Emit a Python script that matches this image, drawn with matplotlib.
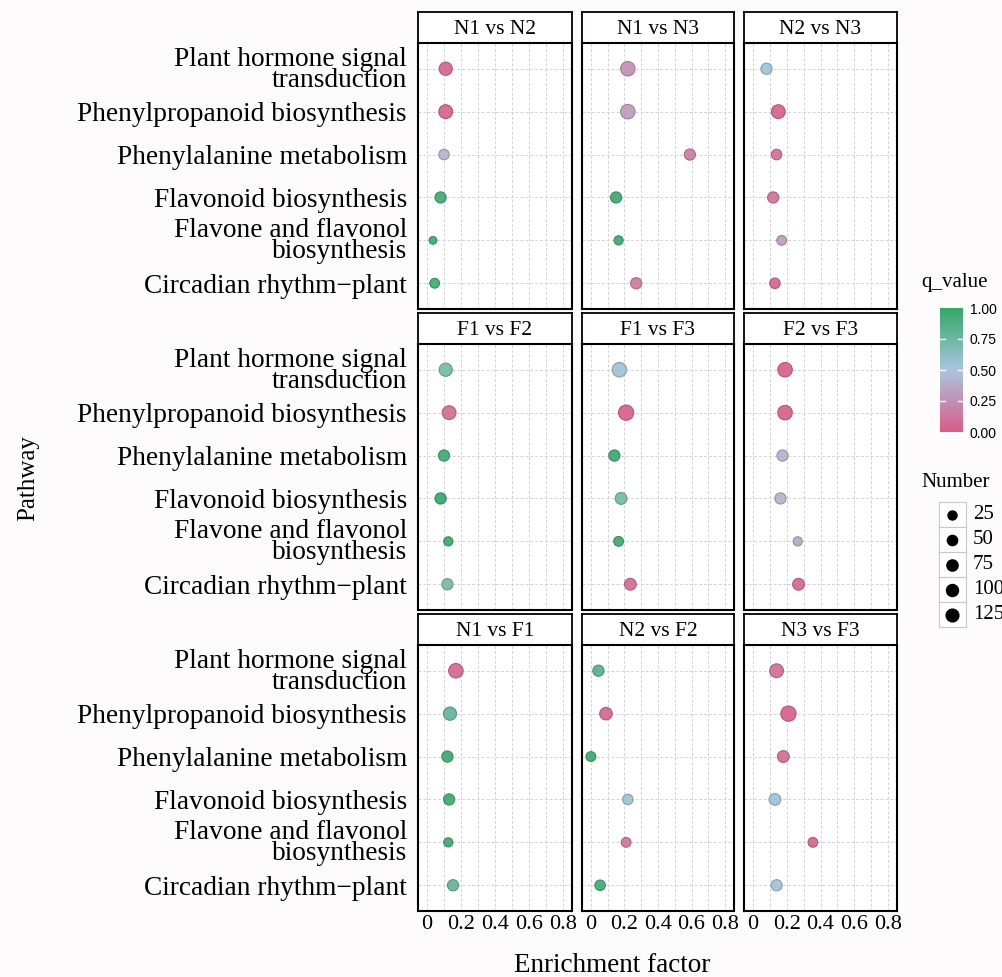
import numpy as np
import matplotlib
matplotlib.use("Agg")
import matplotlib.pyplot as plt
from matplotlib.colors import LinearSegmentedColormap, to_rgb

plt.rcParams["font.family"] = ["Liberation Serif", "DejaVu Serif"]

# Data
pathways = ["Plant hormone signal\ntransduction",
            "Phenylpropanoid biosynthesis",
            "Phenylalanine metabolism",
            "Flavonoid biosynthesis",
            "Flavone and flavonol\nbiosynthesis",
            "Circadian rhythm\u2212plant"]

comparisons = ["N1 vs N2", "N1 vs N3", "N2 vs N3",
               "F1 vs F2", "F1 vs F3", "F2 vs F3",
               "N1 vs F1", "N2 vs F2", "N3 vs F3"]

# enrichment factor, one list per comparison (top -> bottom pathway)
ef_n1n2 = [0.11, 0.11, 0.10, 0.08, 0.035, 0.045]
ef_n1n3 = [0.22, 0.22, 0.59, 0.15, 0.165, 0.27]
ef_n2n3 = [0.08, 0.15, 0.14, 0.12, 0.17, 0.13]
ef_f1f2 = [0.11, 0.13, 0.10, 0.08, 0.125, 0.12]
ef_f1f3 = [0.17, 0.21, 0.14, 0.18, 0.165, 0.235]
ef_f2f3 = [0.19, 0.19, 0.175, 0.163, 0.265, 0.27]
ef_n1f1 = [0.17, 0.135, 0.12, 0.13, 0.125, 0.153]
ef_n2f2 = [0.045, 0.09, 0.0, 0.22, 0.21, 0.055]
ef_n3f3 = [0.14, 0.21, 0.18, 0.13, 0.355, 0.14]

# q values
q_n1n2 = [0.05, 0.03, 0.40, 0.95, 0.97, 0.95]
q_n1n3 = [0.25, 0.30, 0.15, 0.97, 0.97, 0.15]
q_n2n3 = [0.55, 0.02, 0.08, 0.10, 0.30, 0.05]
q_f1f2 = [0.72, 0.08, 0.95, 1.00, 0.97, 0.72]
q_f1f3 = [0.55, 0.02, 0.97, 0.72, 0.97, 0.08]
q_f2f3 = [0.02, 0.02, 0.40, 0.40, 0.35, 0.05]
q_n1f1 = [0.05, 0.80, 0.97, 0.97, 0.97, 0.80]
q_n2f2 = [0.85, 0.05, 0.97, 0.55, 0.12, 0.95]
q_n3f3 = [0.08, 0.02, 0.08, 0.55, 0.05, 0.55]

# gene numbers
num_n1n2 = [144, 169, 56, 75, 9, 40]
num_n1n3 = [200, 200, 75, 75, 28, 75]
num_n2n3 = [75, 169, 56, 75, 40, 56]
num_f1f2 = [144, 169, 75, 75, 28, 75]
num_f1f3 = [200, 235, 75, 93, 40, 93]
num_f2f3 = [200, 200, 75, 75, 28, 93]
num_n1f1 = [200, 144, 75, 75, 28, 75]
num_n2f2 = [75, 117, 40, 56, 40, 56]
num_n3f3 = [169, 235, 93, 93, 40, 75]

ef_all = [ef_n1n2, ef_n1n3, ef_n2n3, ef_f1f2, ef_f1f3, ef_f2f3, ef_n1f1, ef_n2f2, ef_n3f3]
q_all = [q_n1n2, q_n1n3, q_n2n3, q_f1f2, q_f1f3, q_f2f3, q_n1f1, q_n2f2, q_n3f3]
num_all = [num_n1n2, num_n1n3, num_n2n3, num_f1f2, num_f1f3, num_f2f3, num_n1f1, num_n2f2, num_n3f3]

x_ticks = [0, 0.2, 0.4, 0.6, 0.8]
x_ticklabels = ["0", "0.2", "0.4", "0.6", "0.8"]
legend_numbers = [25, 50, 75, 100, 125]
q_ticks = [0, 0.25, 0.5, 0.75, 1.0]

# Style
W, H = 1003, 977
bg = "#fdfbfc"
cmap = LinearSegmentedColormap.from_list("q", ["#db5c88", "#a9c6e0", "#33a867"])


def box(x0, y0, x1, y1):
    # pixel box (top-left origin) -> figure fraction
    return [x0 / W, 1 - y1 / H, (x1 - x0) / W, (y1 - y0) / H]


def size_pt2(n):
    d = 6.0 + 0.6 * np.sqrt(np.asarray(n, dtype=float))  # diameter in px
    return (d * 0.72) ** 2


def darker(c, f=0.8):
    r, g, b = to_rgb(c)
    return (r * f, g * f, b * f)


fig = plt.figure(figsize=(W / 100, H / 100), dpi=100, facecolor=bg)

col_x = [(418, 572), (582, 734), (744, 897)]
row_top = [12, 313, 614]
strip_h = 31
panel_h = 266

ypos = np.arange(len(pathways))
for k, name in enumerate(comparisons):
    r, c = divmod(k, 3)
    x0, x1 = col_x[c]
    top = row_top[r]
    sax = fig.add_axes(box(x0, top, x1, top + strip_h))
    sax.set_facecolor("white")
    sax.set_xticks([])
    sax.set_yticks([])
    for sp in sax.spines.values():
        sp.set_linewidth(1.3)
    sax.text(0.5, 0.45, name, ha="center", va="center", fontsize=15.5, transform=sax.transAxes)

    ax = fig.add_axes(box(x0, top + strip_h, x1, top + strip_h + panel_h))
    ax.set_facecolor("white")
    ax.set_xlim(-0.053, 0.853)
    ax.set_ylim(len(pathways) - 0.4, -0.6)
    for gx in np.arange(0, 0.85, 0.1):
        ax.axvline(gx, color="#d3d3d3", lw=0.7, ls=(0, (3, 2)), zorder=0)
    for gy in ypos:
        ax.axhline(gy, color="#d3d3d3", lw=0.7, ls=(0, (3, 2)), zorder=0)
    cols = cmap(np.asarray(q_all[k]))
    ax.scatter(ef_all[k], ypos, s=size_pt2(num_all[k]), c=cols, alpha=0.92,
               edgecolors=[darker(cc) for cc in cols], linewidths=0.8, zorder=3)
    for sp in ax.spines.values():
        sp.set_linewidth(1.5)
    ax.set_xticks(x_ticks)
    ax.set_yticks(ypos)
    ax.tick_params(length=0)
    if r == 2:
        ax.set_xticklabels(x_ticklabels, fontsize=16)
        ax.tick_params(axis="x", pad=3)
    else:
        ax.set_xticklabels([])
    if c == 0:
        ax.set_yticklabels(pathways, fontsize=19.7, linespacing=0.78)
        ax.tick_params(axis="y", pad=8)
    else:
        ax.set_yticklabels([])

fig.text(612 / W, 1 - 966 / H, "Enrichment factor", ha="center", va="center", fontsize=19.5)
fig.text(28 / W, 1 - 478 / H, "Pathway", ha="center", va="center", rotation=90, fontsize=18)

# q_value colorbar
fig.text(921 / W, 1 - 283 / H, "q_value", ha="left", va="center", fontsize=15)
cax = fig.add_axes(box(940, 308, 963, 432))
grad = np.linspace(0, 1, 256).reshape(-1, 1)
cax.imshow(grad, aspect="auto", cmap=cmap, origin="lower", extent=[0, 1, 0, 1])
for sp in cax.spines.values():
    sp.set_visible(False)
cax.set_xticks([])
cax.yaxis.tick_right()
cax.set_yticks(q_ticks)
cax.set_yticklabels(["%.2f" % v for v in q_ticks], fontsize=10, family="Liberation Sans")
cax.tick_params(axis="y", length=0, pad=5)
for v in q_ticks[1:-1]:
    cax.plot([0, 0.2], [v, v], color="white", lw=1)
    cax.plot([0.8, 1], [v, v], color="white", lw=1)
cax.set_xlim(0, 1)
cax.set_ylim(0, 1)

# Number legend
fig.text(921 / W, 1 - 483 / H, "Number", ha="left", va="center", fontsize=15)
key_top = 502
key_h = 25
for i, n in enumerate(legend_numbers):
    y0 = key_top + i * key_h
    kax = fig.add_axes(box(939, y0, 966, y0 + key_h))
    kax.set_facecolor("white")
    kax.set_xlim(0, 1)
    kax.set_ylim(0, 1)
    kax.set_xticks([])
    kax.set_yticks([])
    for sp in kax.spines.values():
        sp.set_color("#c8c8c8")
        sp.set_linewidth(0.8)
    kax.scatter([0.5], [0.5], s=size_pt2(n), color="black", zorder=3)
    fig.text(973 / W, 1 - (y0 + key_h / 2) / H, str(n), ha="left", va="center", fontsize=15)

fig.savefig("out.png", dpi=100, facecolor=bg)
